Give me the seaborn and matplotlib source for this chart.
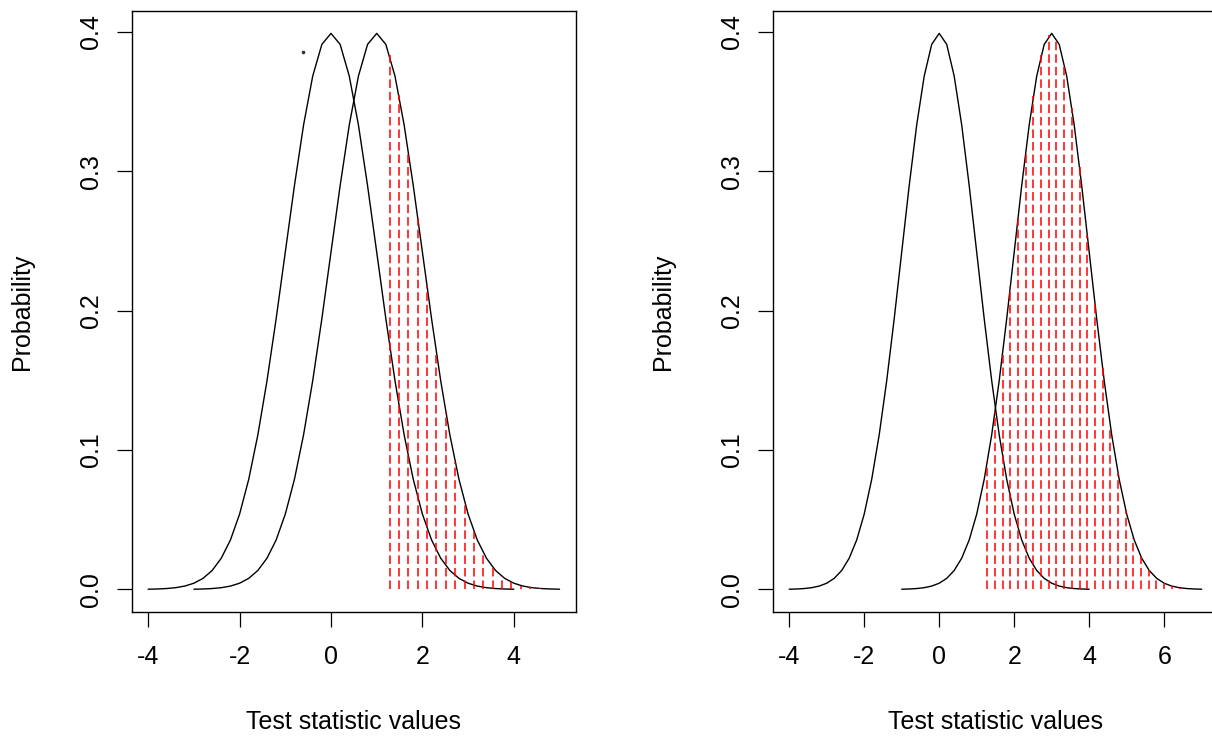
import numpy as np
import pandas as pd
import matplotlib
matplotlib.use("Agg")
import matplotlib.pyplot as plt
import seaborn as sns

# ---- data ----
null_mean = 0.0
alt_means = [1.0, 3.0]          # left panel, right panel
crit_value = 1.2816             # start of shaded (red) region
hatch_step = 0.2051             # spacing of red dashed lines
curve_halfwidth = 4.0           # curves drawn over mean +/- 4
n_curve_points = 41
xticks_left = [-4, -2, 0, 2, 4]
xticks_right = [-4, -2, 0, 2, 4, 6]
yticks = [0.0, 0.1, 0.2, 0.3, 0.4]
ytick_labels = ["0.0", "0.1", "0.2", "0.3", "0.4"]
xlabel = "Test statistic values"
ylabel = "Probability"
stray_point = (-0.61, 0.3855)


def dnorm(x, mu):
    return np.exp(-0.5 * (x - mu) ** 2) / np.sqrt(2 * np.pi)


sns.set_theme(style="white")
plt.rcParams["font.family"] = ["Liberation Sans", "DejaVu Sans"]

FS = 18
W, H = 1212, 739
fig = plt.figure(figsize=(W / 100, H / 100), dpi=100)

panels = [
    dict(rect=[131.7 / W, (H - 611.7) / H, 444.3 / W, 600.7 / H],
         mu=alt_means[0], xlim=(-4.36, 5.36), xticks=xticks_left),
    dict(rect=[772.7 / W, (H - 611.7) / H, 445.5 / W, 600.7 / H],
         mu=alt_means[1], xlim=(-4.44, 7.44), xticks=xticks_right),
]

for i, p in enumerate(panels):
    ax = fig.add_axes(p["rect"])
    mu = p["mu"]
    x0 = np.linspace(null_mean - curve_halfwidth, null_mean + curve_halfwidth, n_curve_points)
    x1 = np.linspace(mu - curve_halfwidth, mu + curve_halfwidth, n_curve_points)
    df0 = pd.DataFrame({"x": x0, "y": dnorm(x0, null_mean)})
    df1 = pd.DataFrame({"x": x1, "y": dnorm(x1, mu)})
    sns.lineplot(data=df0, x="x", y="y", ax=ax, color="black", lw=1.0, sort=False)
    sns.lineplot(data=df1, x="x", y="y", ax=ax, color="black", lw=1.0, sort=False)

    hx = np.arange(crit_value, mu + curve_halfwidth, hatch_step)
    ax.vlines(hx, 0, dnorm(hx, mu), colors="#FF0000", lw=1.1,
              linestyles=(0, (5.6, 2.6)))

    if i == 0:
        ax.plot([stray_point[0]], [stray_point[1]], marker="o", ms=1.6,
                color="#333333", lw=0)

    ax.set_xlim(*p["xlim"])
    ax.set_ylim(-0.016, 0.415)
    ax.set_xticks(p["xticks"])
    ax.set_xticklabels([str(t) for t in p["xticks"]])
    ax.set_yticks(yticks)
    ax.set_yticklabels(ytick_labels, rotation=90, va="center")
    ax.tick_params(axis="both", direction="out", length=10.8, width=0.9,
                   color="black", labelsize=FS, labelcolor="black",
                   bottom=True, left=True)
    ax.tick_params(axis="x", pad=13)
    ax.tick_params(axis="y", pad=10)
    for s in ax.spines.values():
        s.set_visible(True)
        s.set_color("black")
        s.set_linewidth(1.0)
    ax.set_xlabel(xlabel, fontsize=FS, color="black")
    ax.set_ylabel(ylabel, fontsize=FS, color="black")
    ax.xaxis.label.set_va("center")
    ax.yaxis.label.set_va("center")
    ax.xaxis.set_label_coords(0.5, (611.7 - 722) / 600.7)
    ax.yaxis.set_label_coords((22 - 131.7) / 444.3 if i == 0 else (663 - 772.7) / 445.5, 0.5)

fig.savefig("out.png", dpi=100, facecolor="white")
